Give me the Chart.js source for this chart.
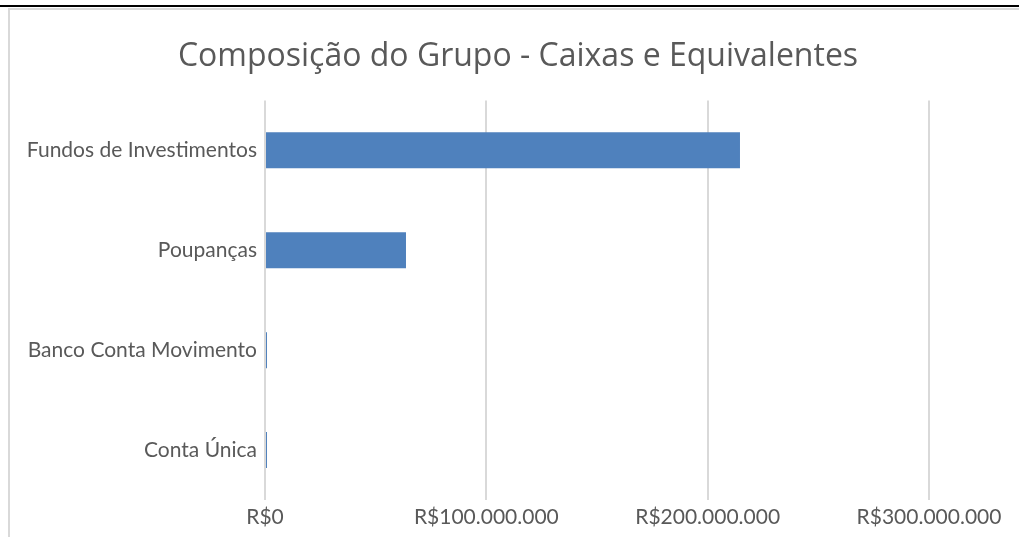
<!DOCTYPE html>
<html>
<head>
<meta charset="utf-8">
<script src="https://cdn.jsdelivr.net/npm/chart.js@4/dist/chart.umd.min.js"></script>
<style>
  html, body { margin: 0; padding: 0; background: #fff; overflow: hidden; }
  .topline { position: absolute; left: 0; top: 5px; width: 1019px; height: 2px; background: #000; }
  .frame { position: absolute; left: 8px; top: 8px; width: 1030px; height: 540px;
           border-left: 2px solid #d9d9d9; border-top: 2px solid #d9d9d9; }
  .wrap { position: absolute; left: 10px; top: 10px; width: 1009px; height: 527px; }
</style>
</head>
<body>
<div class="topline"></div>
<div class="frame"></div>
<div class="wrap"><canvas id="chart"></canvas></div>
<script>
  // ------------------------
  // Data
  // ------------------------
  const titleText = "Composição do Grupo - Caixas e Equivalentes";
  const categories = ["Fundos de Investimentos", "Poupanças", "Banco Conta Movimento", "Conta Única"];
  const values = [214600000, 63700000, 900000, 900000];
  const axisMax = 300000000;
  const axisStep = 100000000;

  const fmt = v => "R$" + Number(v).toLocaleString("pt-BR").replace(/,/g, ".");

  // title is centred on the whole frame, not on the chart area
  const centerTitle = {
    id: "centerTitle",
    afterLayout(chart) {
      if (chart.titleBlock) {
        chart.titleBlock.left = 0;
        chart.titleBlock.right = 1016;
      }
    }
  };

  new Chart(document.getElementById("chart"), {
    type: "bar",
    data: {
      labels: categories,
      datasets: [{
        data: values,
        backgroundColor: "#4f81bd",
        barPercentage: 0.36,
        categoryPercentage: 1
      }]
    },
    options: {
      indexAxis: "y",
      responsive: true,
      maintainAspectRatio: false,
      animation: false,
      layout: { padding: { top: 0, right: 90, bottom: 0, left: 5 } },
      plugins: {
        legend: { display: false },
        tooltip: { enabled: false },
        title: {
          display: true,
          text: titleText,
          color: "#595959",
          font: { family: "Open Sans", size: 32, weight: "normal" },
          padding: { top: 28, bottom: 24 }
        }
      },
      scales: {
        x: {
          min: 0,
          max: axisMax,
          afterFit: s => { s.height = 37; s.paddingLeft = 0; s.paddingRight = 0; },
          ticks: {
            stepSize: axisStep,
            color: "#595959",
            font: { family: "Lato", size: 21 },
            padding: 5,
            callback: v => fmt(v)
          },
          grid: { color: "#d9d9d9", lineWidth: 2, drawTicks: false },
          border: { display: false }
        },
        y: {
          afterFit: s => { s.width = 250; },
          ticks: {
            color: "#595959",
            font: { family: "Lato", size: 21 },
            padding: 8
          },
          grid: { display: false, drawTicks: false },
          border: { display: false }
        }
      }
    },
    plugins: [centerTitle]
  });
</script>
</body>
</html>
